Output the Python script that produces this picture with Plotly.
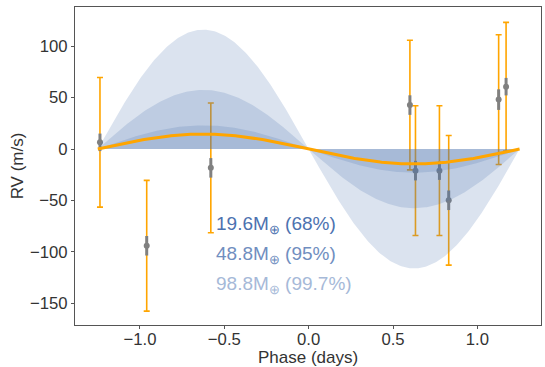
import numpy as np
import plotly.graph_objects as go

# Data
phase = [-1.237, -0.96, -0.58, 0.600, 0.633, 0.775, 0.830, 1.126, 1.170]
rv = [6.5, -94.0, -18.3, 42.7, -21.0, -21.0, -49.8, 48.0, 60.6]
rv_err_total = [63, 63.5, 63, 63, 63, 63, 63, 63, 62.5]
rv_err_inst = [8.5, 9.5, 9.5, 9.5, 9.5, 9.0, 9.5, 10.0, 8.5]

period_days = 2.5
best_amp = 14.5
band_amps = [116, 57.5, 23]          # 99.7%, 95%, 68%
band_labels = ["19.6M<sub>⊕</sub> (68%)", "48.8M<sub>⊕</sub> (95%)", "98.8M<sub>⊕</sub> (99.7%)"]
label_colors = ["rgb(76,114,176)", "rgb(112,142,192)", "rgb(166,185,216)"]
label_y = [-74, -103, -132]

xm = np.linspace(-period_days / 2, period_days / 2, 301)
shape = -np.sin(2 * np.pi * xm / period_days)

fig = go.Figure()

# outer (jitter-inclusive) errors
fig.add_trace(go.Scatter(
    x=phase, y=rv, mode="markers",
    marker=dict(size=1, color="rgba(0,0,0,0)"),
    error_y=dict(type="data", array=rv_err_total, color="#FFA500", thickness=1.6, width=3),
    showlegend=False, hoverinfo="skip"))
# inner errors + points
fig.add_trace(go.Scatter(
    x=phase, y=rv, mode="markers",
    marker=dict(size=6, color="#808080"),
    error_y=dict(type="data", array=rv_err_inst, color="#808080", thickness=3, width=0),
    showlegend=False))

for a in band_amps:
    fig.add_trace(go.Scatter(
        x=xm, y=a * shape, mode="lines", line=dict(width=0),
        fill="tozeroy", fillcolor="rgba(76,114,176,0.2)",
        showlegend=False, hoverinfo="skip"))

fig.add_trace(go.Scatter(
    x=xm, y=best_amp * shape, mode="lines",
    line=dict(color="#FFA500", width=3), showlegend=False))

for txt, col, yy in zip(band_labels, label_colors, label_y):
    fig.add_annotation(x=-0.56, y=yy, text=txt, showarrow=False,
                       xanchor="left", yanchor="middle",
                       font=dict(size=19, color=col, family="Liberation Sans, Arial, sans-serif"))

# x-axis title placed as an annotation below the tick labels
fig.add_annotation(x=0.5, y=0, xref="paper", yref="paper", text="Phase (days)",
                   showarrow=False, xanchor="center", yanchor="middle", yshift=-32,
                   font=dict(size=17, color="#333333", family="Liberation Sans, Arial, sans-serif"))

axis_common = dict(
    showgrid=False, zeroline=False, showline=True, mirror=True,
    linecolor="#555555", linewidth=1.2, automargin=False,
    ticks="outside", ticklen=3, tickcolor="#555555", tickwidth=1,
    tickfont=dict(size=16.7, color="#333333"),
)

fig.update_xaxes(range=[-1.385, 1.377], tickvals=[-1.0, -0.5, 0.0, 0.5, 1.0],
                 ticktext=["−1.0", "−0.5", "0.0", "0.5", "1.0"],
                 ticklabelstandoff=-4,
                 **axis_common)
fig.update_yaxes(range=[-171, 138], tickvals=[-150, -100, -50, 0, 50, 100],
                 title=dict(text="RV (m/s)", font=dict(size=17, color="#333333"), standoff=2),
                 **axis_common)

fig.update_layout(
    template="none",
    width=545, height=367,
    margin=dict(l=75, r=4, t=7, b=42),
    paper_bgcolor="white", plot_bgcolor="white",
    font=dict(family="Liberation Sans, Arial, sans-serif", color="#333333"),
)

fig.write_html("out.html", config={"displayModeBar": False},
               post_script="document.body.style.margin='0';document.body.style.overflow='hidden';")
